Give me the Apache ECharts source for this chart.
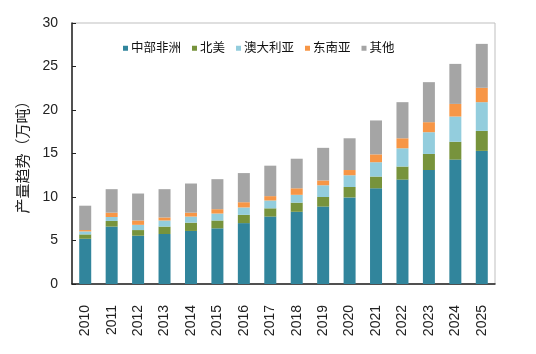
<!doctype html>
<html>
<head>
<meta charset="UTF-8">
<title>产量趋势</title>
<script src="https://cdn.jsdelivr.net/npm/echarts@6/dist/echarts.min.js"></script>
<style>
  html, body { margin: 0; padding: 0; background: #fff; }
  #chart { width: 536px; height: 354px; }
</style>
</head>
<body>
<div id="chart"></div>
<script>
  // 年份
  var years = ['2010','2011','2012','2013','2014','2015','2016','2017',
               '2018','2019','2020','2021','2022','2023','2024','2025'];
  // 各地区产量（万吨）
  var centralAfrica = [5.2, 6.6, 5.55, 5.75, 6.1, 6.4, 7.0, 7.75, 8.3, 8.9, 9.95, 11.0, 12.0, 13.1, 14.3, 15.3];
  var northAmerica  = [0.5, 0.65, 0.65, 0.85, 0.95, 0.9, 0.95, 0.95, 1.05, 1.1, 1.2, 1.35, 1.5, 1.85, 2.05, 2.3];
  var australia     = [0.35, 0.45, 0.6, 0.7, 0.7, 0.8, 0.85, 0.9, 0.9, 1.35, 1.35, 1.65, 2.1, 2.5, 2.9, 3.3];
  var southeastAsia = [0.15, 0.5, 0.5, 0.35, 0.45, 0.5, 0.6, 0.5, 0.75, 0.55, 0.6, 0.9, 1.15, 1.15, 1.45, 1.65];
  var others        = [2.8, 2.7, 3.1, 3.25, 3.35, 3.45, 3.35, 3.5, 3.4, 3.75, 3.65, 3.9, 4.15, 4.6, 4.6, 5.05];
  var yTicks = [0, 5, 10, 15, 20, 25, 30];

  var colors = ['#31859C', '#77933C', '#93CDDD', '#F79646', '#A5A5A5'];
  var font = 'Liberation Sans, Noto Sans CJK SC, sans-serif';

  var chart = echarts.init(document.getElementById('chart'));

  function bar(name, data) {
    return {
      name: name,
      type: 'bar',
      stack: 'total',
      barWidth: 12,
      data: data
    };
  }

  var option = {
    animation: false,
    color: colors,
    textStyle: { fontFamily: font },
    grid: {
      left: 72, right: 41, top: 23, bottom: 70,
      show: true,
      borderColor: '#bfbfbf',
      borderWidth: 1
    },
    legend: {
      left: 118, top: 37,
      itemWidth: 5, itemHeight: 5, itemGap: 11,
      icon: 'rect',
      textStyle: { fontSize: 12.5, color: '#111', padding: [0, 0, 0, -2] },
      data: ['中部非洲', '北美', '澳大利亚', '东南亚', '其他']
    },
    xAxis: {
      type: 'category',
      data: years,
      axisLine: { lineStyle: { color: '#222', width: 1.5 } },
      axisTick: { inside: true, length: 5, lineStyle: { color: '#222' } },
      axisLabel: { rotate: 90, margin: 21, fontSize: 14, color: '#222' }
    },
    yAxis: {
      type: 'value',
      min: yTicks[0],
      max: yTicks[yTicks.length - 1],
      interval: 5,
      name: '产量趋势（万吨）',
      nameLocation: 'middle',
      nameGap: 38,
      nameTextStyle: { fontSize: 15, color: '#222' },
      axisLine: { show: true, lineStyle: { color: '#222', width: 1.5 } },
      axisTick: { show: true, inside: true, length: 4, lineStyle: { color: '#222' } },
      axisLabel: { margin: 14, fontSize: 14, color: '#222' },
      splitLine: { show: false }
    },
    series: [
      bar('中部非洲', centralAfrica),
      bar('北美', northAmerica),
      bar('澳大利亚', australia),
      bar('东南亚', southeastAsia),
      bar('其他', others)
    ]
  };

  chart.setOption(option);
</script>
</body>
</html>
